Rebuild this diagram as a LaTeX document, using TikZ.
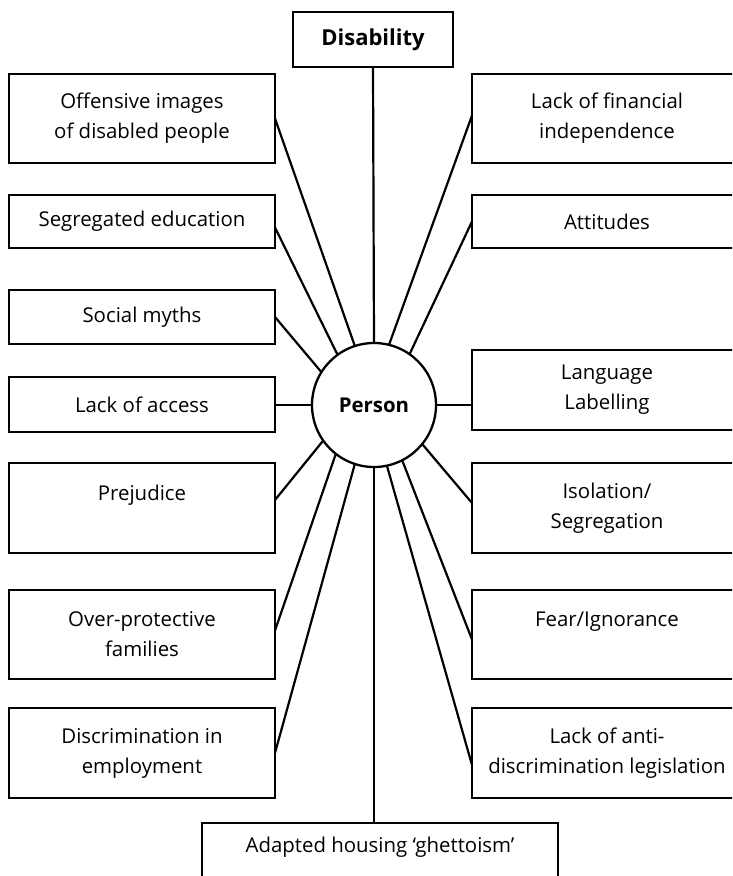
\documentclass[tikz,border=0pt]{standalone}
\usepackage{fontspec}
\setmainfont{Open Sans}
\usetikzlibrary{calc}
\begin{document}
\begin{tikzpicture}[x=1pt,y=-1pt,
  txt/.style={font=\fontsize{20.4}{30}\selectfont},
  box/.style={draw, line width=2.3pt, rectangle, inner sep=0pt, outer sep=0pt, align=center, txt},
  lbox/.style={box, minimum width=266pt},
  rbox/.style={box, minimum width=270pt},
  link/.style={line width=2.2pt},
  lbl/.style={inner sep=0pt, txt}
]
\useasboundingbox (0,0) rectangle (732,876);
\clip (0,0) rectangle (732,876);

% centre
\node[draw, circle, line width=2.3pt, minimum size=124pt, inner sep=0pt, outer sep=0pt, font=\fontsize{20.4}{30}\selectfont\bfseries] (person) at (374,405) {Person};

% top / bottom
\node[box, minimum width=160pt, minimum height=55pt, font=\fontsize{22}{30}\selectfont\bfseries] (dis) at (373,39.5) {Disability};
\node[box, minimum width=356pt, minimum height=64pt] (house) at (380,855) {};
\node[lbl] (housetxt) at (380,847) {Adapted housing ‘ghettoism’};

% left boxes
\node[lbox, minimum height=89pt] (off)  at (142,118.5) {Offensive images\\of disabled people};
\node[lbox, minimum height=53pt] (seg)  at (142,221.5) {Segregated education};
\node[lbox, minimum height=54pt] (soc)  at (142,317)   {Social myths};
\node[lbox, minimum height=55pt] (acc)  at (142,404.5) {Lack of access};
\node[lbox, minimum height=90pt] (prej) at (142,508)   {Prejudice\\\mbox{}};
\node[lbox, minimum height=89pt] (over) at (142,634.5) {Over-protective\\families};
\node[lbox, minimum height=90pt] (disc) at (142,753)   {Discrimination in\\employment};

% right boxes
\node[rbox, minimum height=89pt] (fin)  at (607,118.5) {Lack of financial\\independence};
\node[rbox, minimum height=53pt] (att)  at (607,221.5) {Attitudes};
\node[rbox, minimum height=80pt] (lang) at (607,390)   {Language\\Labelling};
\node[rbox, minimum height=90pt] (iso)  at (607,508)   {Isolation/\\Segregation};
\node[rbox, minimum height=89pt] (fear) at (607,634.5) {Fear/Ignorance\\\mbox{}};
\node[rbox, minimum height=90pt] (anti) at (607,753)   {Lack of anti-\\discrimination legislation};

% connectors
\draw[link] (dis.south) -- (person.north);
\draw[link] (person.south) -- (person.south |- house.north);

\draw[link] (off.east) -- (person.108);
\draw[link] ($(seg.east)+(0,6)$) -- (person.126);
\draw[link] (soc.east) -- (person.148);
\draw[link] (person.180) -- (person.180 -| acc.east);
\draw[link] ($(prej.east)+(0,-8)$) -- (person.215);
\draw[link] ($(over.east)+(0,-4)$) -- (person.232);
\draw[link] (disc.east) -- (person.252);

\draw[link] ($(fin.west)+(0,-3)$) -- (person.76);
\draw[link] (att.west) -- (person.55);
\draw[link] (person.0) -- (person.0 -| lang.west);
\draw[link] ($(iso.west)+(0,-5)$) -- (person.321);
\draw[link] ($(fear.west)+(0,5)$) -- (person.297);
\draw[link] ($(anti.west)+(0,12)$) -- (person.282);
\end{tikzpicture}
\end{document}
